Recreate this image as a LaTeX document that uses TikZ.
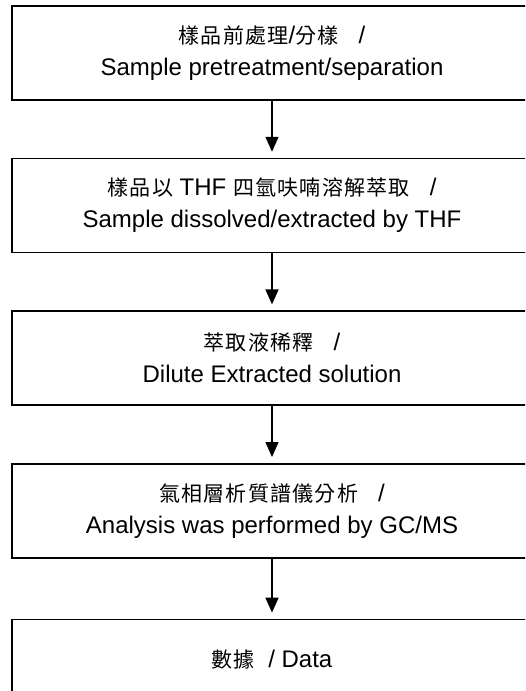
\documentclass[tikz,border=0pt]{standalone}
\usepackage{fontspec}
\setmainfont{Liberation Sans}
\newfontfamily\cjk[LetterSpace=6]{Noto Sans CJK TC}
\usetikzlibrary{arrows.meta,positioning}

\newcommand{\zh}[1]{{\cjk\fontsize{21}{32}\selectfont #1}}

\begin{document}
\begin{tikzpicture}
	\tikzstyle{process_box} = [rectangle, draw, line width=1.6pt, minimum width=520pt, minimum height=94pt, align=center, inner sep=0pt, font=\fontsize{24}{32}\selectfont]
	\tikzstyle{flow_arrow} = [-{Triangle[length=15pt,width=13pt]}, line width=1.6pt, shorten >=6pt]

	% Page frame (the boxes run past the right and bottom edges)
	\clip (0,0) rectangle (525pt,-691pt);

	% Process steps
	\node (S1) [process_box] at (272pt,-53pt) {\zh{樣品前處理}/\zh{分樣}\ \ \ /\\Sample pretreatment/separation};
	\node (S2) [process_box, below=57pt of S1] {\zh{樣品以} THF \zh{四氫呋喃溶解萃取}\ \ \ /\\Sample dissolved/extracted by THF};
	\node (S3) [process_box, below=57pt of S2] {\zh{萃取液稀釋}\ \ \ /\\Dilute Extracted solution};
	\node (S4) [process_box, below=57pt of S3] {\zh{氣相層析質譜儀分析}\ \ \ /\\Analysis was performed by GC/MS};
	\node (S5) [process_box, below=60pt of S4, minimum height=80pt] {\zh{數據}\ \ / Data};

	% Flow
	\draw[flow_arrow] (S1) -- (S2);
	\draw[flow_arrow] (S2) -- (S3);
	\draw[flow_arrow] (S3) -- (S4);
	\draw[flow_arrow] (S4) -- (S5);
\end{tikzpicture}
\end{document}
